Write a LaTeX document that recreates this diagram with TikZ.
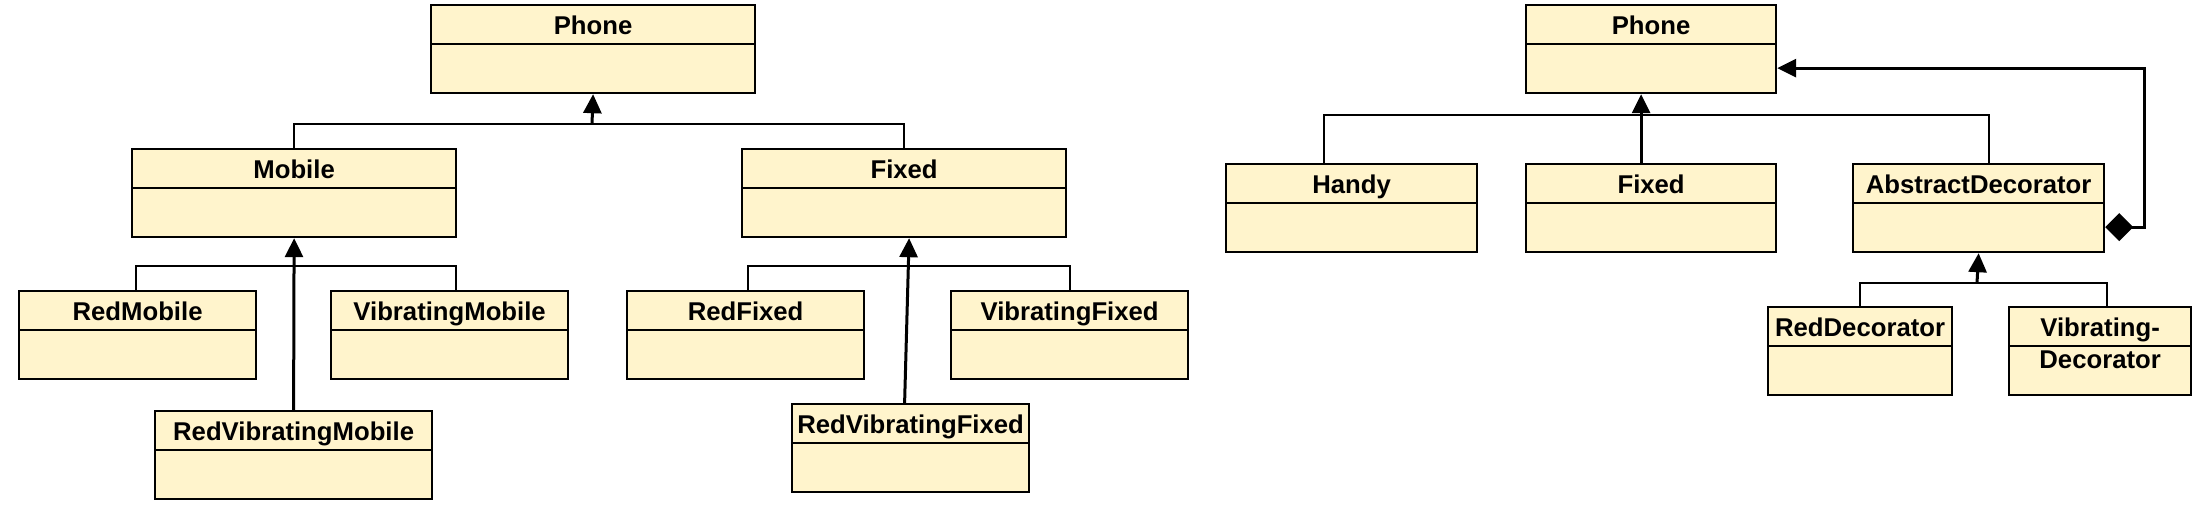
\documentclass[tikz,border=0pt]{standalone}
\usepackage{fontspec}
\setmainfont{Liberation Sans}
\usetikzlibrary{arrows.meta}
\definecolor{clsfill}{HTML}{FFF4CC}
\tikzset{
  cls/.style={draw=black, fill=clsfill, line width=2.2pt, rectangle, anchor=north west,
    inner sep=0pt, minimum height=88pt},
  sepline/.style={line width=2.2pt},
  ttl/.style={anchor=base, inner sep=0pt, font=\fontsize{25.7}{32}\selectfont\bfseries},
  bus/.style={line width=2pt},
  gen/.style={line width=3pt, -{Triangle[length=19pt,width=18pt]}},
  agg/.style={line width=3pt, {Diamond[length=28pt,width=28pt]}-{Triangle[length=19pt,width=18pt]}},
}
\newcommand{\umlcls}[5]{% name, x, y, width, text
  \node[cls, minimum width=#4pt] (#1) at (#2,#3) {};
  \draw[sepline] ([yshift=-40pt]#1.north west) -- ([yshift=-40pt]#1.north east);
  \node[ttl] (#1-t) at ([yshift=-30pt]#1.north) {#5};
}
\begin{document}
\begin{tikzpicture}[x=1pt,y=-1pt]
\useasboundingbox (0,0) rectangle (2196,504);
% ---------- left diagram ----------
\umlcls{phoneL}{430}{4}{324}{Phone}
\umlcls{mobileL}{131}{148}{324}{Mobile}
\umlcls{fixedL}{741}{148}{324}{Fixed}
\umlcls{redmobile}{18}{290}{237}{RedMobile}
\umlcls{vibmobile}{330}{290}{237}{VibratingMobile}
\umlcls{redvibmobile}{154}{410}{277}{RedVibratingMobile}
\umlcls{redfixed}{626}{290}{237}{RedFixed}
\umlcls{vibfixed}{950}{290}{237}{VibratingFixed}
\umlcls{redvibfixed}{791}{403}{237}{RedVibratingFixed}

\coordinate (jL0) at (592,124);
\draw[bus] (mobileL.north) |- (jL0) -| (fixedL.north);
\draw[gen] (jL0) -- (phoneL.south);

\coordinate (jM) at (293,266);
\draw[bus] ([xshift=-2pt]redmobile.north) |- (jM) -| ([xshift=6pt]vibmobile.north);
\draw[gen] (redvibmobile.north) -- (mobileL.south);

\coordinate (jF) at (907,266);
\draw[bus] ([xshift=2pt]redfixed.north) |- (jF) -| (vibfixed.north);
\draw[gen] ([xshift=-6pt]redvibfixed.north) -- ([xshift=5pt]fixedL.south);

% ---------- right diagram ----------
\umlcls{phoneR}{1525}{4}{250}{Phone}
\umlcls{handy}{1225}{163}{251}{Handy}
\umlcls{fixedR}{1525}{163}{250}{Fixed}
\umlcls{absdec}{1852}{163}{251}{AbstractDecorator}
\umlcls{reddec}{1767}{306}{184}{RedDecorator}
\node[cls, minimum width=182pt] (vibdec) at (2008,306) {};
\draw[sepline] ([yshift=-40pt]vibdec.north west) -- ([yshift=-40pt]vibdec.north east);
\node[ttl] (vibdec-t1) at ([yshift=-30pt]vibdec.north) {Vibrating-};
\node[ttl] (vibdec-t2) at ([yshift=-62pt]vibdec.north) {Decorator};

\coordinate (jR) at (1640,115);
\draw[bus] ([xshift=-28pt]handy.north) |- (jR) -| ([xshift=10pt]absdec.north);
\draw[gen] ([xshift=-10pt]fixedR.north) -- ([xshift=-10pt]phoneR.south);

\coordinate (jD) at (1977,283);
\draw[bus] (reddec.north) |- (jD) -| ([xshift=7pt]vibdec.north);
\draw[gen] (jD) -- (absdec.south);

\draw[agg] ([yshift=-19pt]absdec.east) -- ++(39pt,0pt) |- ([yshift=-19pt]phoneR.east);
\end{tikzpicture}
\end{document}
